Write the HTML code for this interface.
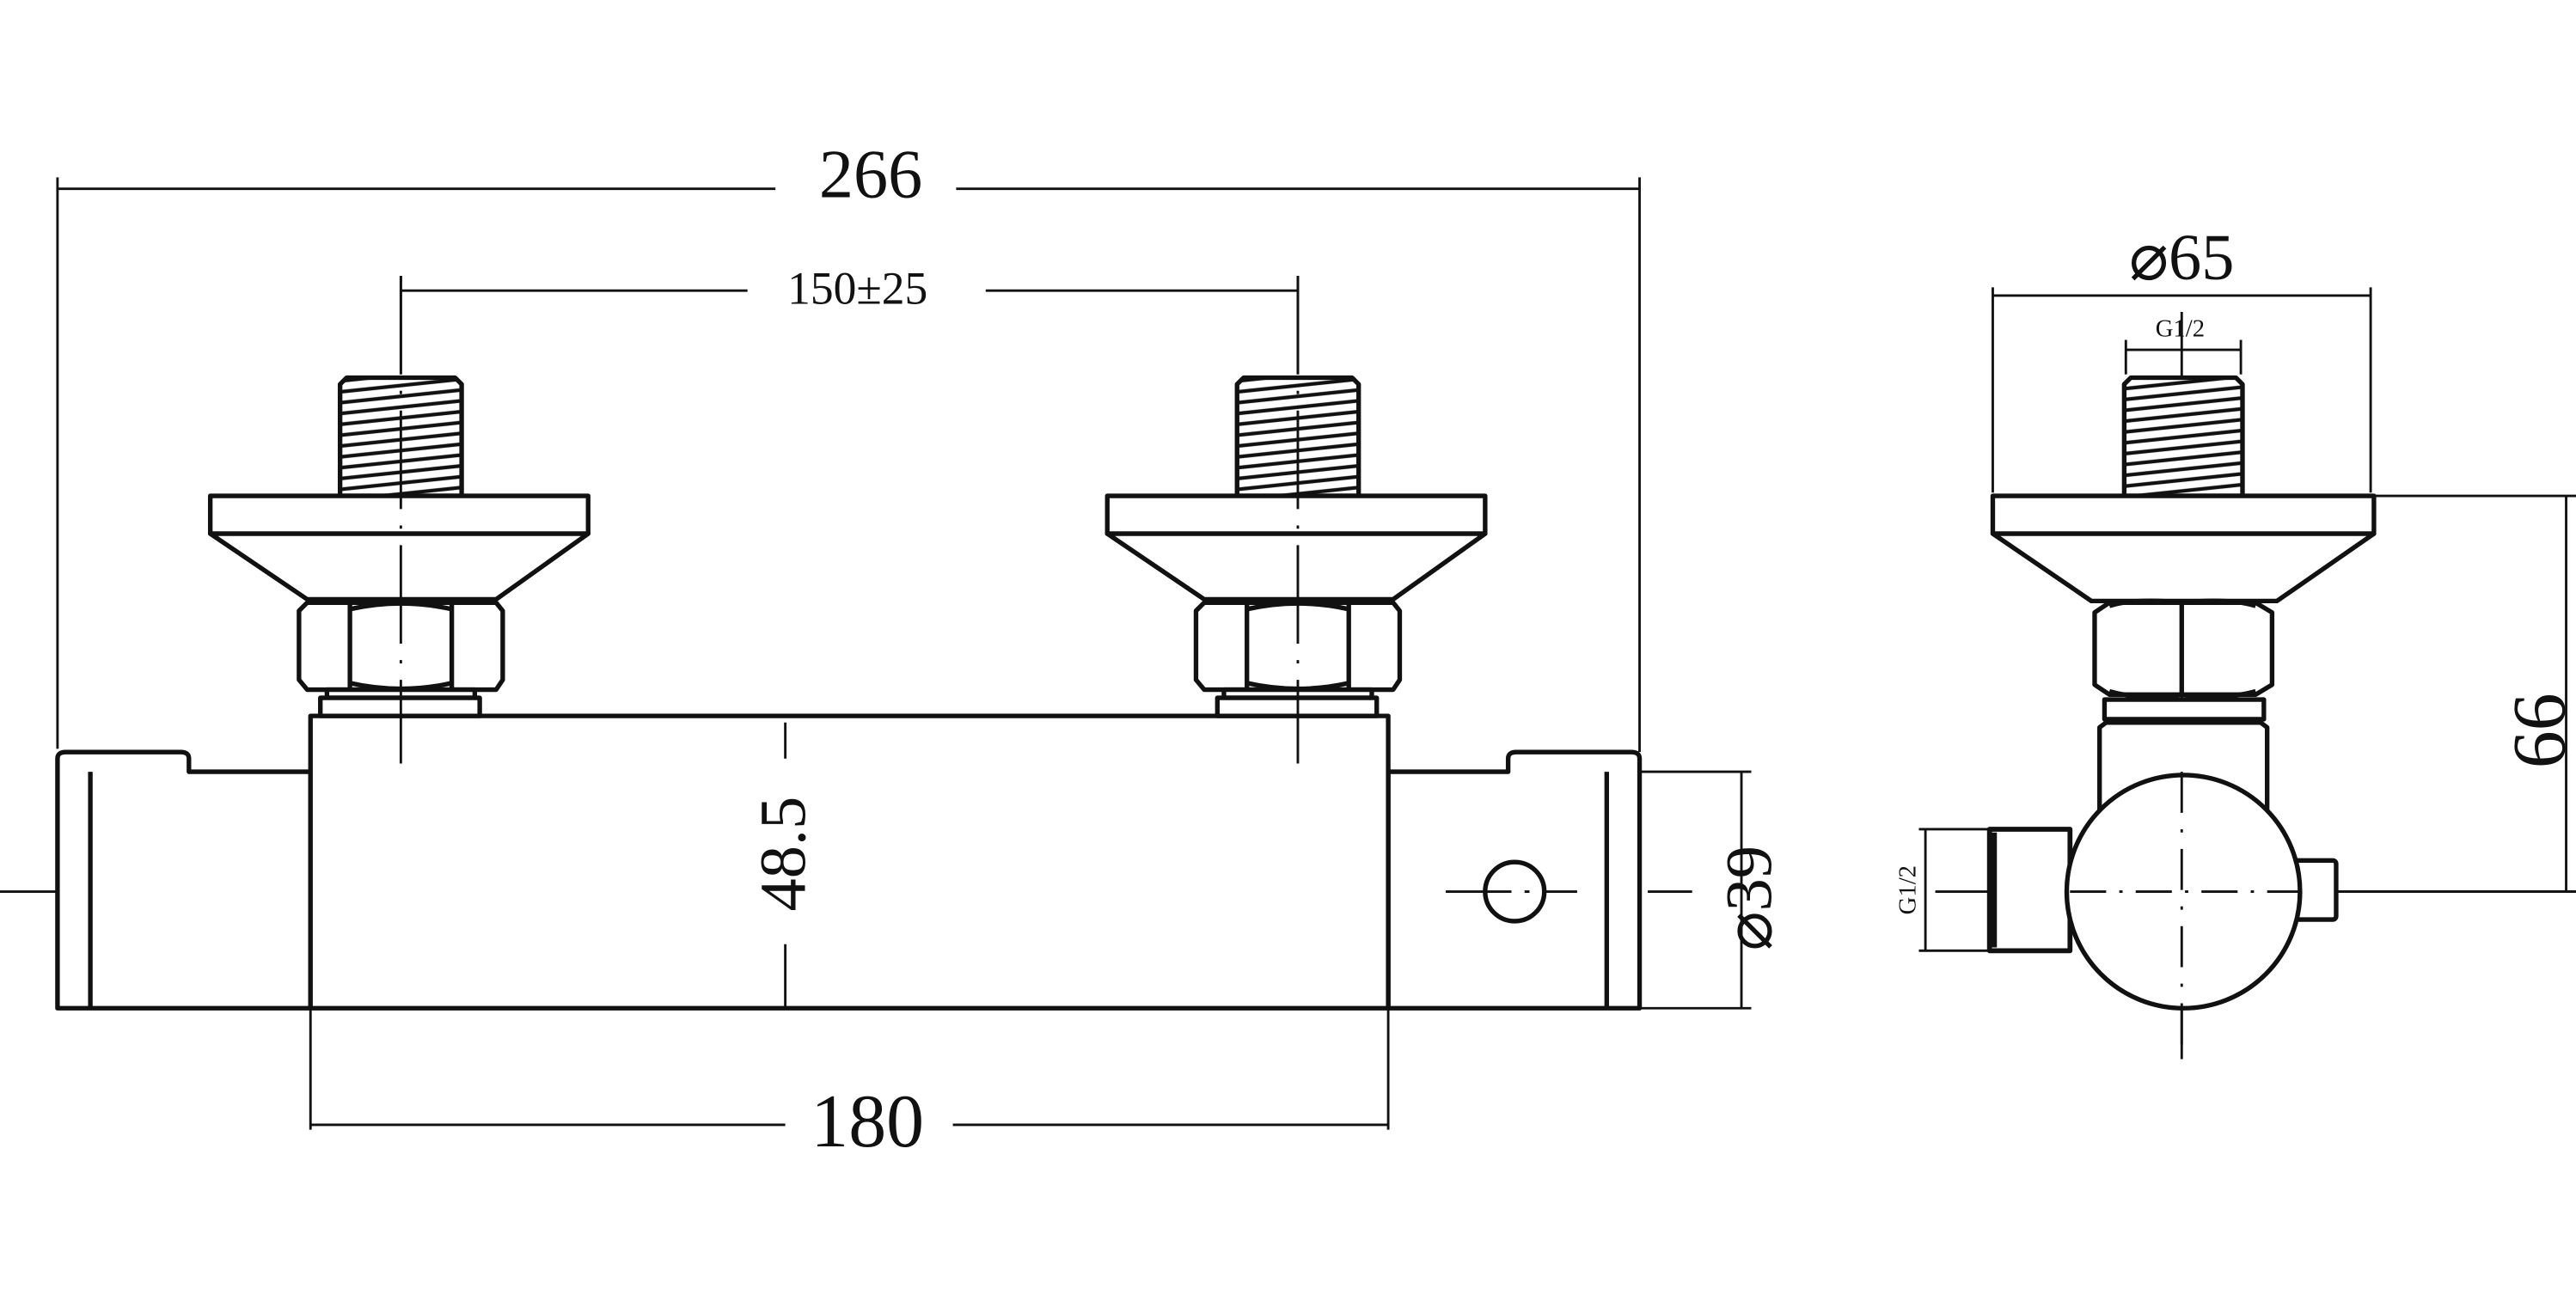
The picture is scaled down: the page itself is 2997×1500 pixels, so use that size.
<!DOCTYPE html>
<html><head><meta charset="utf-8"><style>
html,body{margin:0;padding:0;background:#fff;}
svg{display:block;}
text{font-family:"Liberation Serif",serif;fill:#111;}
</style></head><body>
<svg width="2997" height="1500" viewBox="0 0 1568 785" preserveAspectRatio="none" xmlns="http://www.w3.org/2000/svg">
<defs>
<pattern id="thr" width="20" height="6.6" patternUnits="userSpaceOnUse" patternTransform="skewY(-6)">
<rect width="20" height="6.6" fill="#fff"/><line x1="0" y1="3" x2="20" y2="3" stroke="#111" stroke-width="2.2"/>
</pattern>
</defs>
<g stroke="#111" fill="none" stroke-width="1.5">
<line x1="35" y1="115" x2="472" y2="115"/><line x1="582" y1="115" x2="998" y2="115"/>
<line x1="35" y1="108" x2="35" y2="456"/><line x1="998" y1="108" x2="998" y2="458"/>
<line x1="244" y1="177" x2="455" y2="177"/><line x1="600" y1="177" x2="790" y2="177"/>
<line x1="189" y1="685" x2="478" y2="685"/><line x1="580" y1="685" x2="845" y2="685"/>
<line x1="189" y1="614" x2="189" y2="688"/><line x1="845" y1="614" x2="845" y2="688"/>
<line x1="998" y1="470" x2="1066" y2="470"/><line x1="998" y1="614" x2="1066" y2="614"/>
<line x1="1060" y1="470" x2="1060" y2="614"/>
<line x1="0" y1="543" x2="1030" y2="543" stroke-dasharray="40 8 3 8"/>
<line x1="244" y1="168" x2="244" y2="465" stroke-dasharray="60 10 2 10"/>
<line x1="790" y1="168" x2="790" y2="465" stroke-dasharray="60 10 2 10"/>
<line x1="1213" y1="180" x2="1443" y2="180"/>
<line x1="1213" y1="175" x2="1213" y2="300"/><line x1="1443" y1="175" x2="1443" y2="300"/>
<line x1="1294" y1="213" x2="1364" y2="213"/>
<line x1="1294" y1="207" x2="1294" y2="228"/><line x1="1364" y1="207" x2="1364" y2="228"/>
<line x1="1445" y1="302" x2="1568" y2="302"/><line x1="1422" y1="543" x2="1568" y2="543"/>
<line x1="1562" y1="302" x2="1562" y2="543"/>
<line x1="1168" y1="505" x2="1211" y2="505"/><line x1="1168" y1="579" x2="1211" y2="579"/>
<line x1="1172" y1="505" x2="1172" y2="579"/>
<line x1="1178" y1="543" x2="1420" y2="543" stroke-dasharray="40 8 3 8"/>
<line x1="1328" y1="190" x2="1328" y2="645" stroke-dasharray="60 10 2 10"/>
</g>
<g stroke="#111" stroke-width="2.8" fill="#fff" stroke-linejoin="round">
<path d="M35,614 V462 Q35,458 40,458 H110 Q115,458 115,462 V470 H189 V614 Z"/>
<line x1="55" y1="470" x2="55" y2="614"/>
<path d="M998,614 V462 Q998,458 993,458 H923 Q918,458 918,462 V470 H845 V614 Z"/>
<line x1="978" y1="470" x2="978" y2="614"/>
<rect x="189" y="436" width="656" height="178"/>
<circle cx="922" cy="543" r="18"/>
</g>
<g stroke="#111" stroke-width="1.5"><line x1="478" y1="440" x2="478" y2="462"/><line x1="478" y1="575" x2="478" y2="614"/><line x1="880" y1="543" x2="960" y2="543" stroke-dasharray="40 8 3 8"/></g>
<g id="fit" stroke="#111" stroke-width="2.8" fill="#fff" stroke-linejoin="round">
<path d="M207,302 V234 L211,230 H277 L281,234 V302 Z" fill="url(#thr)"/>
<rect x="128" y="302" width="230" height="23"/>
<path d="M128,325 L187,365 H302 L358,325 Z"/>
<path d="M187,367 H302 L306,372 V414 L302,420 H187 L182,414 V372 Z"/>
<line x1="213" y1="368" x2="213" y2="419"/><line x1="275" y1="368" x2="275" y2="419"/>
<path d="M213,371 Q244,364 275,371 M213,416 Q244,423 275,416" fill="none"/>
<rect x="199" y="420" width="90" height="5"/>
<rect x="195" y="425" width="97" height="11"/>
</g>
<use href="#fit" transform="translate(546,0)"/>
<g stroke="#111" stroke-width="1.5"><line x1="244" y1="168" x2="244" y2="465" stroke-dasharray="60 10 2 10"/><line x1="790" y1="168" x2="790" y2="465" stroke-dasharray="60 10 2 10"/></g>
<g stroke="#111" stroke-width="2.8" fill="#fff" stroke-linejoin="round">
<path d="M1293,302 V234 L1297,230 H1361 L1365,234 V302 Z" fill="url(#thr)"/>
<rect x="1213" y="302" width="232" height="23"/>
<path d="M1213,325 L1273,366 H1386 L1445,325 Z"/>
<path d="M1284,367 H1373 L1383,373 V417 L1373,423 H1284 L1275,417 V373 Z"/>
<path d="M1328,367 Q1300,364 1284,369 M1328,367 Q1356,364 1373,369 M1328,423 Q1300,426 1284,421 M1328,423 Q1356,426 1373,421" fill="none"/>
<line x1="1328" y1="367" x2="1328" y2="423"/>
<rect x="1281" y="426" width="97" height="12"/>
<path d="M1278,500 V443 L1282,440 H1376 L1380,443 V500"/>
<rect x="1211" y="505" width="49" height="74" stroke-width="3"/>
<line x1="1213" y1="507" x2="1213" y2="577" stroke-width="5"/>
<rect x="1395" y="524" width="27" height="36" rx="2"/>
<circle cx="1329" cy="543" r="71"/>
</g>
<g stroke="#111" stroke-width="1.5"><line x1="1328" y1="470" x2="1328" y2="645" stroke-dasharray="25 10 2 10"/><line x1="1260" y1="543" x2="1400" y2="543" stroke-dasharray="22 8 2 8"/><line x1="1422" y1="543" x2="1568" y2="543"/></g>
<text x="530" y="120" font-size="42" text-anchor="middle">266</text>
<text x="522" y="185" font-size="28" text-anchor="middle">150±25</text>
<text x="528" y="698" font-size="46" text-anchor="middle">180</text>
<text transform="translate(490,520) rotate(-90)" font-size="40" text-anchor="middle">48.5</text>
<text transform="translate(1078,547) rotate(-90)" font-size="40" text-anchor="middle">⌀39</text>
<text x="1328" y="170" font-size="40" text-anchor="middle">⌀65</text>
<text x="1327" y="205" font-size="15" text-anchor="middle">G1/2</text>
<text transform="translate(1166,542) rotate(-90)" font-size="15" text-anchor="middle">G1/2</text>
<text transform="translate(1561,445) rotate(-90)" font-size="46" text-anchor="middle">66</text>
</svg>
</body></html>
